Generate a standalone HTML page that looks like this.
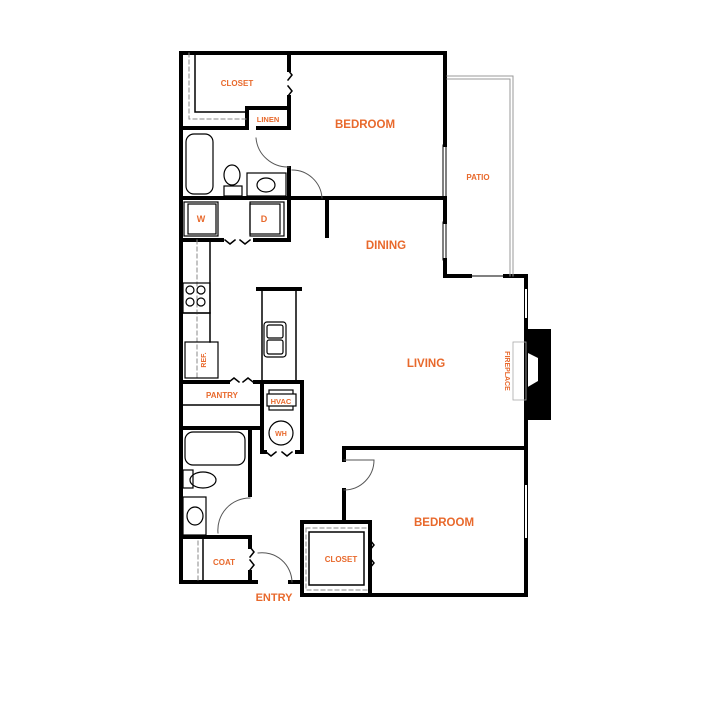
<!DOCTYPE html>
<html><head><meta charset="utf-8"><style>
html,body{margin:0;padding:0;background:#fff;width:720px;height:720px;overflow:hidden}
svg{display:block}
text{font-family:"Liberation Sans",sans-serif;fill:#e8692c;font-weight:bold;text-anchor:middle}
</style></head><body>
<svg width="720" height="720" viewBox="0 0 720 720" xmlns="http://www.w3.org/2000/svg">
<g fill="none" stroke="#000" stroke-linecap="square">
<g stroke-width="4">
<path d="M181,53 H445 V145"/>
<path d="M445,198 V222"/>
<path d="M445,260 V276 H470"/>
<path d="M505,276 H526 V287"/>
<path d="M526,320 V483"/>
<path d="M526,540 V595 H302 V522 H370 V595"/>
<path d="M181,53 V582 H256"/>
<path d="M290,582 H302"/>
<path d="M181,128 H247 V108 H289"/>
<path d="M289,53 V70"/>
<path d="M289,97 V128 H258"/>
<path d="M289,168 V198 H181"/>
<path d="M289,198 H445"/>
<path d="M327,198 V236"/>
<path d="M181,240 H222"/>
<path d="M255,240 H289 V198"/>
<path d="M258,289 H300"/>
<path d="M181,382 H228"/>
<path d="M255,382 H302 V452 H297"/>
<path d="M262,382 V452 H265"/>
<path d="M181,428 H262"/>
<path d="M250,428 V495"/>
<path d="M181,537 H250"/>
<path d="M250,537 V547"/>
<path d="M250,572 V582"/>
<path d="M344,460 V448 H526"/>
<path d="M344,490 V522"/>
<path d="M370,522 V540"/>
<path d="M370,575 V595"/>
</g>
<g stroke-width="1.5">
<path d="M262,289 V382 M296,289 V382"/>
<path d="M181,405 H262"/>
<path d="M210,240 V342"/>
<path d="M183,313 H210"/>
<path d="M203,537 V582"/>
<path d="M195,53 V112 H247"/>
<path d="M309,532 H364 V585 H309 Z"/>
</g>
<g stroke-width="1">
<rect x="443" y="145" width="3" height="53"/>
<rect x="443" y="222" width="3" height="38"/>
<rect x="524.5" y="287" width="3" height="33"/>
<rect x="524.5" y="483" width="3" height="57"/>
<path d="M470,276 H505"/>
</g>
<path d="M447,76 H513 V276 M447,79 H510 V276" stroke="#999" stroke-width="1"/>
<g stroke="#888" stroke-width="1" stroke-dasharray="4,3">
<path d="M189,53 V119 H247"/>
<path d="M197,240 V380"/>
<path d="M198,541 V580"/>
<path d="M306,528 H367 M306,528 V590 H367"/>
</g>
<g stroke-width="1.5">
<path d="M288,70 l4,5 -4,5 M288,86 l4,5 -4,5"/>
<path d="M225,240 l5,4 5,-4 M240,240 l5,4 5,-4"/>
<path d="M229,382 l5,-4 5,4 M243,382 l5,-4 5,4"/>
<path d="M266,452 l5,4 5,-4 M282,452 l5,4 5,-4"/>
<path d="M250,547 l4,5 -4,5 M250,560 l4,5 -4,5"/>
<path d="M370,540 l4,5 -4,5 M370,558 l4,5 -4,5"/>
</g>
<g stroke="#555" stroke-width="1">
<path d="M256,138 A32,32 0 0 0 289,167"/>
<path d="M292,170 A30,30 0 0 1 322,198"/>
<path d="M218,533 A32,32 0 0 1 250,498"/>
<path d="M258,553 A30,30 0 0 1 292,582"/>
<path d="M344,490 A30,30 0 0 0 374,460 H344"/>
</g>
<g stroke-width="1.2">
<rect x="186" y="134" width="27" height="60" rx="8"/>
<ellipse cx="232" cy="175" rx="8" ry="10"/>
<rect x="224" y="186" width="18" height="10"/>
<rect x="247" y="173" width="39" height="23"/>
<ellipse cx="266" cy="185" rx="9" ry="7"/>
<rect x="184" y="202" width="34" height="34"/><rect x="188" y="204" width="28" height="30"/>
<rect x="250" y="202" width="34" height="34"/><rect x="250" y="204" width="30" height="30"/>
<rect x="183" y="283" width="27" height="30"/>
<circle cx="190" cy="290" r="4"/><circle cx="201" cy="290" r="4"/><circle cx="190" cy="302" r="4"/><circle cx="201" cy="302" r="4"/>
<rect x="185" y="342" width="33" height="36"/>
<rect x="264" y="322" width="22" height="35" rx="3"/>
<rect x="267" y="325" width="16" height="13" rx="2"/><rect x="267" y="340" width="16" height="14" rx="2"/>
<rect x="269" y="390" width="24" height="20"/>
<rect x="267" y="394" width="29" height="12" fill="#fff"/>
<circle cx="281" cy="433" r="12"/>
<rect x="185" y="432" width="60" height="33" rx="8"/>
<rect x="183" y="470" width="10" height="18"/>
<ellipse cx="203" cy="480" rx="13" ry="8"/>
<rect x="183" y="497" width="23" height="38"/>
<ellipse cx="195" cy="516" rx="8" ry="9"/>
</g>
<path d="M526,329 H551 V420 H526 V388 L538,381 V358 L526,352 Z" fill="#000" stroke="none"/>
<rect x="513" y="342" width="13" height="58" stroke="#aaa" stroke-width="0.8"/>
</g>
<text x="237" y="86" font-size="8">CLOSET</text>
<text x="268" y="122" font-size="7.5">LINEN</text>
<text x="365" y="128" font-size="11.5">BEDROOM</text>
<text x="478" y="180" font-size="8">PATIO</text>
<text x="201" y="222" font-size="9">W</text>
<text x="264" y="222" font-size="9">D</text>
<text x="386" y="249" font-size="11.5">DINING</text>
<text x="426" y="367" font-size="11.5">LIVING</text>
<text x="222" y="398" font-size="8">PANTRY</text>
<text x="281" y="404" font-size="7.5">HVAC</text>
<text x="281" y="436" font-size="7">WH</text>
<text x="224" y="565" font-size="8">COAT</text>
<text x="341" y="562" font-size="8">CLOSET</text>
<text x="274" y="601" font-size="11">ENTRY</text>
<text x="444" y="526" font-size="11.5">BEDROOM</text>
<text transform="translate(206,360) rotate(-90)" font-size="7">REF.</text>
<text transform="translate(505,371) rotate(90)" font-size="7">FIREPLACE</text>
</svg>
</body></html>
